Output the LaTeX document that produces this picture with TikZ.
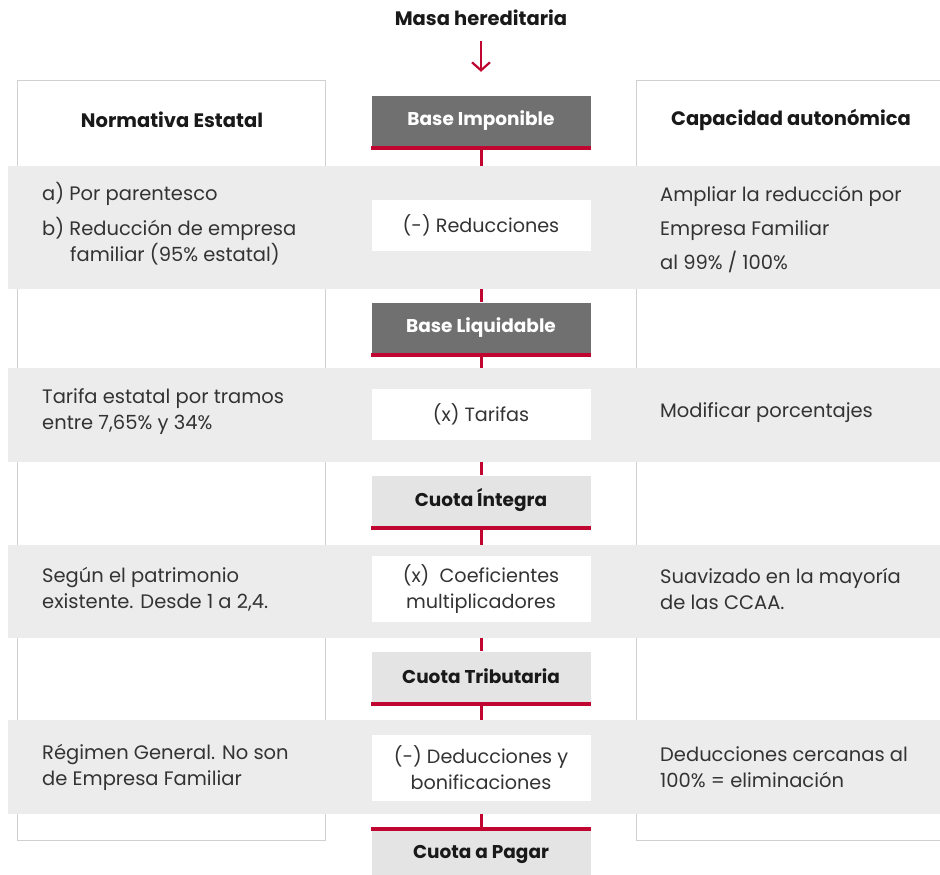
\documentclass[tikz,border=0pt]{standalone}
\usepackage{fontspec}
\setmainfont{Poppins}
\usepackage{tikz}
\usetikzlibrary{arrows.meta}
\definecolor{rojo}{RGB}{192,6,48}
\definecolor{grisoscuro}{RGB}{112,112,112}
\definecolor{grisclaro}{RGB}{228,228,228}
\definecolor{banda}{RGB}{236,236,236}
\definecolor{borde}{RGB}{208,208,208}
\definecolor{texto}{RGB}{51,51,51}
\pgfdeclarelayer{fondo}
\pgfsetlayers{fondo,main}
\newcommand{\franja}[2]{%
  \fill[banda] (8,#1) rectangle (945,#2);}
\newcommand{\rayaroja}[2]{%
  \draw[linearoja] ([yshift=#2]#1.south west) -- ([yshift=#2]#1.south east);}
\tikzset{
  linearoja/.style={rojo,line width=4pt},
  enlace/.style={rojo,line width=3pt},
  flecha/.style={-{Straight Barb[length=8pt,width=18pt,line width=2.2pt]},
                 rojo,line width=2.2pt,shorten <=12pt,shorten >=24pt}}

\begin{document}
\begin{tikzpicture}[x=1pt,y=-1pt,
   cabecera/.style={font=\fontsize{19.5}{22}\selectfont\bfseries,text=black!90},
   etapa/.style={minimum width=219pt,minimum height=50pt,inner sep=0pt,
                 font=\fontsize{18.5}{22}\selectfont\bfseries},
   etapaoscura/.style={etapa,fill=grisoscuro,text=white},
   etapaclara/.style={etapa,fill=grisclaro,text=black!90},
   operacion/.style={fill=white,minimum width=219pt,minimum height=51pt,
                     inner sep=0pt,align=center,text=texto,
                     font=\fontsize{19.2}{26}\selectfont},
   lateral/.style={anchor=west,align=left,inner sep=0pt,text=texto,
                   font=\fontsize{19.5}{26}\selectfont}]
\useasboundingbox (0,0) rectangle (940,875);

% paneles laterales
\draw[borde] (17,80) rectangle (325,840);
\draw[borde] (636,80) rectangle (950,840);
\node[cabecera] (ne) at (172,120) {Normativa Estatal};
\node[cabecera] (ca) at (791,120) {Capacidad autonómica};

% franjas grises
\franja{166}{289}
\franja{368}{462}
\franja{545}{638}
\franja{720}{814}

% columna central
\node[cabecera] (masa) at (481,18) {Masa hereditaria};
\node[etapaoscura] (bi) at (481,121) {Base Imponible};
\node[operacion] (red) at (481,225.5) {(-) Reducciones};
\node[etapaoscura] (bl) at (481,327.5) {Base Liquidable};
\node[operacion] (tar) at (481,414.5) {(x) Tarifas};
\node[etapaclara] (ci) at (481,500.5) {Cuota Íntegra};
\node[operacion,minimum height=66pt] (coef) at (481,589)
  {(x)\ \ Coeficientes\\multiplicadores};
\node[etapaclara] (ct) at (481,676.5) {Cuota Tributaria};
\node[operacion,minimum height=66pt] (ded) at (481,768)
  {(-) Deducciones y\\bonificaciones};
\node[etapaclara,minimum height=46pt] (cp) at (481,854) {Cuota a Pagar};

\rayaroja{bi}{-2pt}
\rayaroja{bl}{-2pt}
\rayaroja{ci}{-2pt}
\rayaroja{ct}{-2pt}
\draw[linearoja] ([yshift=2pt]cp.north west) -- ([yshift=2pt]cp.north east);

% textos a la izquierda
\node[lateral] (izq1) at (42,224)
  {a) Por parentesco\\[9pt]b) Reducción de empresa\\\hspace*{28pt}familiar (95\% estatal)};
\node[lateral] (izq2) at (42,412) {Tarifa estatal por tramos\\entre 7,65\% y 34\%};
\node[lateral] (izq3) at (42,589) {Según el patrimonio\\existente. Desde 1 a 2,4.};
\node[lateral] (izq4) at (42,767) {Régimen General. No son\\de Empresa Familiar};

% textos a la derecha
\node[lateral,font=\fontsize{19.5}{34}\selectfont] (der1) at (660,229)
  {Ampliar la reducción por\\Empresa Familiar\\al 99\% / 100\%};
\node[lateral] (der2) at (660,413) {Modificar porcentajes};
\node[lateral] (der3) at (660,589) {Suavizado en la mayoría\\de las CCAA.};
\node[lateral] (der4) at (660,767) {Deducciones cercanas al\\100\% = eliminación};

\draw[flecha] (masa) -- (bi);
\begin{pgfonlayer}{fondo}
\draw[enlace] (bi) -- (red) -- (bl) -- (tar) -- (ci) -- (coef) -- (ct) -- (ded) -- (cp);
\end{pgfonlayer}
\end{tikzpicture}
\end{document}
